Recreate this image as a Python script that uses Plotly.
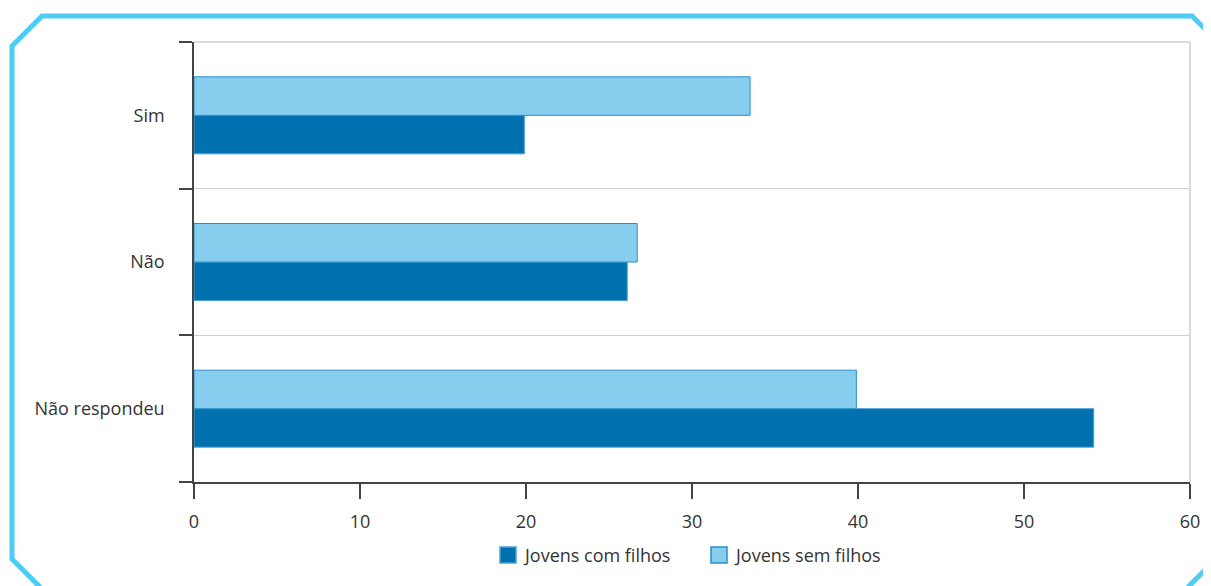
import plotly.graph_objects as go

categories = ["Não respondeu", "Não", "Sim"]
com_filhos = [54.2, 26.1, 19.9]
sem_filhos = [39.9, 26.7, 33.5]
x_ticks = [0, 10, 20, 30, 40, 50, 60]
series_names = ["Jovens com filhos", "Jovens sem filhos"]

OFF = 8  # page body margin
W, H = 1211 - OFF, 586 - OFF
# reference pixel positions (page coords)
PL, PR, PT, PB = 194, 1190, 42, 482
ML, MR, MT, MB = PL - OFF, W - (PR - OFF), PT - OFF, H - (PB - OFF)
PW, PH = W - ML - MR, H - MT - MB

def px(x):
    return (x - OFF - ML) / PW

def py(y):
    return 1 - (y - OFF - MT) / PH

DARK, DARK_EDGE = "#0071AE", "#4aa3d6"
LIGHT, LIGHT_EDGE = "#87CEEE", "#2a8fc9"

fig = go.Figure()
fig.add_trace(go.Bar(
    y=categories, x=com_filhos, orientation="h", name=series_names[0],
    marker=dict(color=DARK, line=dict(color=DARK_EDGE, width=1)),
))
fig.add_trace(go.Bar(
    y=categories, x=sem_filhos, orientation="h", name=series_names[1],
    marker=dict(color=LIGHT, line=dict(color=LIGHT_EDGE, width=1)),
))

font = "Open Sans, Noto Sans, sans-serif"
fig.update_layout(
    width=W, height=H,
    margin=dict(l=ML, r=MR, t=MT, b=MB, pad=0),
    paper_bgcolor="white", plot_bgcolor="white",
    barmode="group", bargap=0.475, bargroupgap=0,
    font=dict(family=font, size=18, color="#333333"),
    showlegend=False,
    xaxis=dict(range=[0, 60], tickvals=x_ticks, showgrid=False, zeroline=False,
               showline=True, linecolor="#444444", linewidth=1.5,
               ticks="outside", ticklen=15, tickcolor="#444444", tickwidth=1.5,
               ticklabelstandoff=8, fixedrange=True),
    yaxis=dict(type="category", categoryorder="array", categoryarray=categories,
               range=[-0.5, 2.5], showgrid=True, gridcolor="#d0d0d0", gridwidth=1,
               tickson="boundaries", ticks="outside", ticklen=13, tickcolor="#444444",
               tickwidth=1.5, showline=True, linecolor="#444444", linewidth=1.5,
               ticklabelstandoff=24, zeroline=False, fixedrange=True),
)

# right and top border of plot area
fig.add_shape(type="line", xref="paper", yref="paper", x0=1, x1=1, y0=0, y1=1,
              line=dict(color="#d0d0d0", width=1.5), layer="below")
fig.add_shape(type="line", xref="paper", yref="paper", x0=0, x1=1, y0=1, y1=1,
              line=dict(color="#d0d0d0", width=1.5), layer="below")

# custom legend
leg = [(500, DARK, DARK_EDGE, series_names[0]), (711, LIGHT, LIGHT_EDGE, series_names[1])]
for x0, fill, edge, name in leg:
    fig.add_shape(type="rect", xref="paper", yref="paper",
                  x0=px(x0), x1=px(x0 + 16), y0=py(563), y1=py(547),
                  fillcolor=fill, line=dict(color=edge, width=1.5))
    fig.add_annotation(xref="paper", yref="paper", x=px(x0 + 21), y=py(555),
                       xanchor="left", yanchor="middle", text=name, showarrow=False,
                       font=dict(size=18, color="#333333", family=font))

# octagonal frame
pts = [(12, 46), (42, 16), (1192, 16), (1240, 64), (1240, 535), (1175, 600),
       (53, 600), (12, 559)]
path = "M " + " L ".join(f"{px(x):.5f},{py(y):.5f}" for x, y in pts) + " Z"
fig.add_shape(type="path", xref="paper", yref="paper", path=path,
              line=dict(color="#4DCCF5", width=5), layer="below")

fig.write_html("out.html")
